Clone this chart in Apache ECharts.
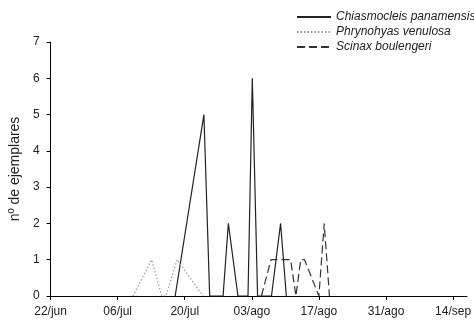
<!DOCTYPE html>
<html>
<head>
<meta charset="utf-8">
<script src="https://cdn.jsdelivr.net/npm/echarts@6/dist/echarts.min.js"></script>
<style>
  html, body { margin: 0; padding: 0; background: #fff; }
  #chart { width: 474px; height: 320px; }
</style>
</head>
<body>
<div id="chart"></div>
<script>
// dias contados desde el 22/jun
var tickDays = [0, 14, 28, 42, 56, 70, 84];
var tickLabels = ["22/jun", "06/jul", "20/jul", "03/ago", "17/ago", "31/ago", "14/sep"];

var chiasDays = [26, 32, 33.2, 36, 37.1, 39.1, 41.2, 42.1, 43.2, 46.1, 48, 49.2];
var chiasCounts = [0, 5, 0, 0, 2, 0, 0, 6, 0, 0, 2, 0];

var phryDays = [17.2, 21.1, 23.2, 24.1, 26.4, 31.8];
var phryCounts = [0, 1, 0, 0, 1, 0];

var scinaxDays = [44, 46, 50.1, 51.2, 52.2, 53, 56, 57.1, 58.2];
var scinaxCounts = [0, 1, 1, 0, 1, 1, 0, 2, 0];

function pairs(xs, ys) {
    return xs.map(function(x, i) { return [x, ys[i]]; });
}

var myChart = echarts.init(document.getElementById("chart"));
var option = {
    animation: false,
    textStyle: { fontFamily: "Liberation Sans, Arial, sans-serif", color: "#222" },
    grid: { left: 47.5, right: 0, top: 42, bottom: 24, containLabel: false },
    legend: {
        orient: "vertical",
        left: 291,
        top: 6,
        itemWidth: 34,
        itemHeight: 13,
        itemGap: 3,
        itemStyle: { opacity: 0 },
        textStyle: { fontSize: 12, fontStyle: "italic", color: "#222" },
        data: ["Chiasmocleis panamensis", "Phrynohyas venulosa", "Scinax boulengeri"]
    },
    xAxis: {
        type: "value",
        min: 0,
        max: 86.9,
        interval: 14,
        splitLine: { show: false },
        axisLine: { lineStyle: { color: "#000", width: 1 } },
        axisTick: { show: true, length: 4, lineStyle: { color: "#000" } },
        axisLabel: {
            fontSize: 12,
            color: "#222",
            margin: 10,
            showMaxLabel: false,
            formatter: function(v) {
                var i = tickDays.indexOf(v);
                return i >= 0 ? tickLabels[i] : "";
            }
        }
    },
    yAxis: {
        type: "value",
        min: 0,
        max: 7,
        interval: 1,
        name: "nº de ejemplares",
        nameLocation: "middle",
        nameGap: 28,
        nameTextStyle: { fontSize: 14, color: "#222" },
        splitLine: { show: false },
        axisLine: { show: true, lineStyle: { color: "#000", width: 1 } },
        axisTick: { show: true, length: 4, lineStyle: { color: "#000" } },
        axisLabel: { fontSize: 12, color: "#222", margin: 11 }
    },
    series: [
        {
            name: "Chiasmocleis panamensis",
            type: "line",
            symbol: "none",
            lineStyle: { color: "#222", width: 1.2, type: "solid" },
            itemStyle: { color: "#222" },
            data: pairs(chiasDays, chiasCounts)
        },
        {
            name: "Phrynohyas venulosa",
            type: "line",
            symbol: "none",
            lineStyle: { color: "#999", width: 1.2, type: [1.5, 2] },
            itemStyle: { color: "#999" },
            data: pairs(phryDays, phryCounts)
        },
        {
            name: "Scinax boulengeri",
            type: "line",
            symbol: "none",
            lineStyle: { color: "#333", width: 1.2, type: [8, 4] },
            itemStyle: { color: "#333" },
            data: pairs(scinaxDays, scinaxCounts)
        }
    ]
};
myChart.setOption(option, true);
</script>
</body>
</html>
